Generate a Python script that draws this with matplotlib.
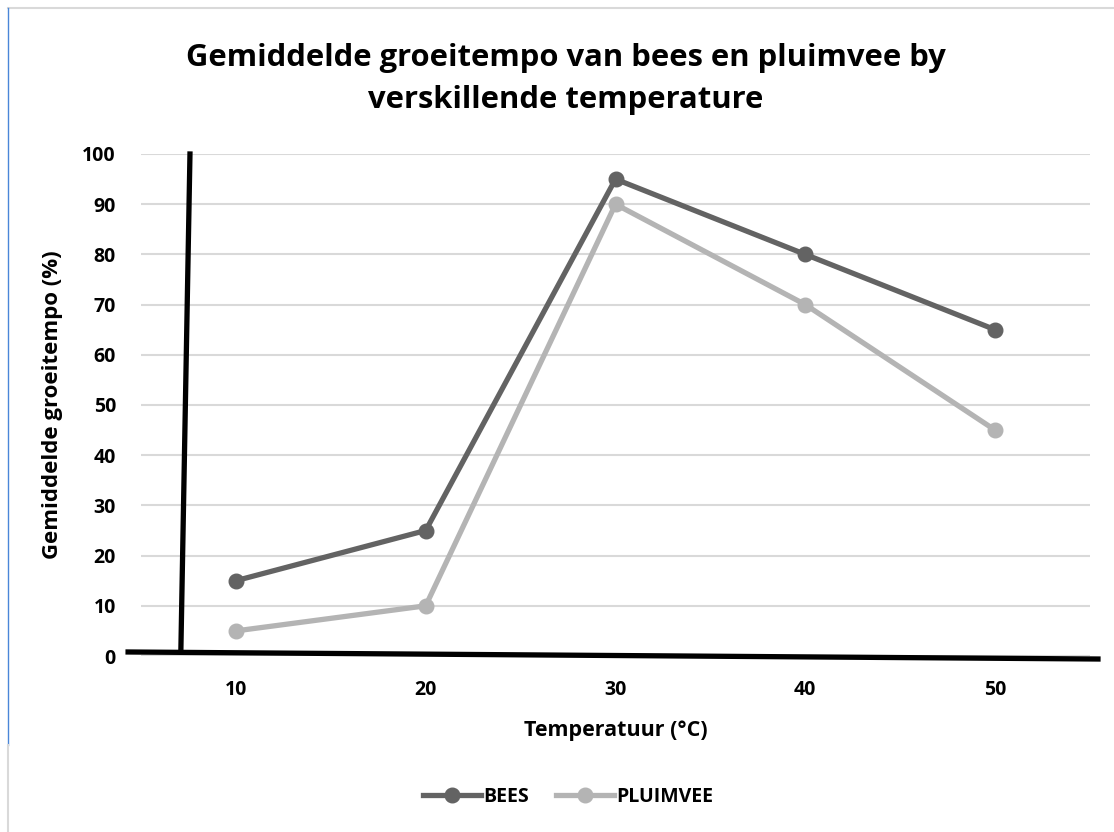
import matplotlib
matplotlib.use("Agg")
import matplotlib.pyplot as plt
from matplotlib.lines import Line2D

temperatures = ["10", "20", "30", "40", "50"]
bees = [15, 25, 95, 80, 65]
pluimvee = [5, 10, 90, 70, 45]
y_ticks = [0, 10, 20, 30, 40, 50, 60, 70, 80, 90, 100]

plt.rcParams['font.family'] = ['Open Sans', 'DejaVu Sans']

fig = plt.figure(figsize=(11.14, 8.32), dpi=100)
ax = fig.add_axes([141 / 1114, 1 - 656 / 832, 949 / 1114, 502 / 832])

x = list(range(len(temperatures)))
ax.plot(x, bees, color='#636363', lw=3.8, marker='o', ms=10.5, label='BEES')
ax.plot(x, pluimvee, color='#b4b4b4', lw=3.8, marker='o', ms=10.5, label='PLUIMVEE')

ax.set_xlim(-0.5, len(temperatures) - 0.5)
ax.set_ylim(0, 100)
ax.set_xticks(x)
ax.set_xticklabels(temperatures, fontsize=14, fontweight='bold')
ax.set_yticks(y_ticks)
ax.set_yticklabels([str(v) for v in y_ticks], fontsize=14, fontweight='bold')
ax.tick_params(length=0)
ax.tick_params(axis='y', pad=18)
ax.tick_params(axis='x', pad=17)
ax.grid(axis='y', color='#d9d9d9', lw=1.5)
ax.set_axisbelow(True)
for s in ax.spines.values():
    s.set_visible(False)

ax.set_ylabel('Gemiddelde groeitempo (%)', fontsize=16, fontweight='bold', labelpad=14)
ax.set_xlabel('Temperatuur (°C)', fontsize=15.5, fontweight='bold', labelpad=15)

# hand-drawn black axes
ax.add_line(Line2D([-0.242, -0.29], [100, 1], color='black', lw=3.8, clip_on=False))
ax.add_line(Line2D([-0.568, 4.542], [0.8, -0.6], color='black', lw=3.8, clip_on=False))

fig.text(0.508, 1 - 79 / 832, 'Gemiddelde groeitempo van bees en pluimvee by\nverskillende temperature',
         ha='center', va='center', fontsize=22.3, fontweight='bold', linespacing=1.5)

ax.legend(loc='center', bbox_to_anchor=(0.45, -0.281), ncol=2, frameon=False,
          prop={'size': 14, 'weight': 'bold'}, handlelength=3, columnspacing=1.4,
          handletextpad=0.1)

# frame border
fig.add_artist(Line2D([8 / 1114, 1], [1 - 8 / 832] * 2, color='#d9d9d9', lw=1.5))
fig.add_artist(Line2D([8 / 1114] * 2, [1 - 8 / 832, 1 - 745 / 832], color='#4a86d8', lw=1))
fig.add_artist(Line2D([8 / 1114] * 2, [1 - 745 / 832, 0], color='#d9d9d9', lw=1.5))

fig.savefig('out.png', dpi=100)
